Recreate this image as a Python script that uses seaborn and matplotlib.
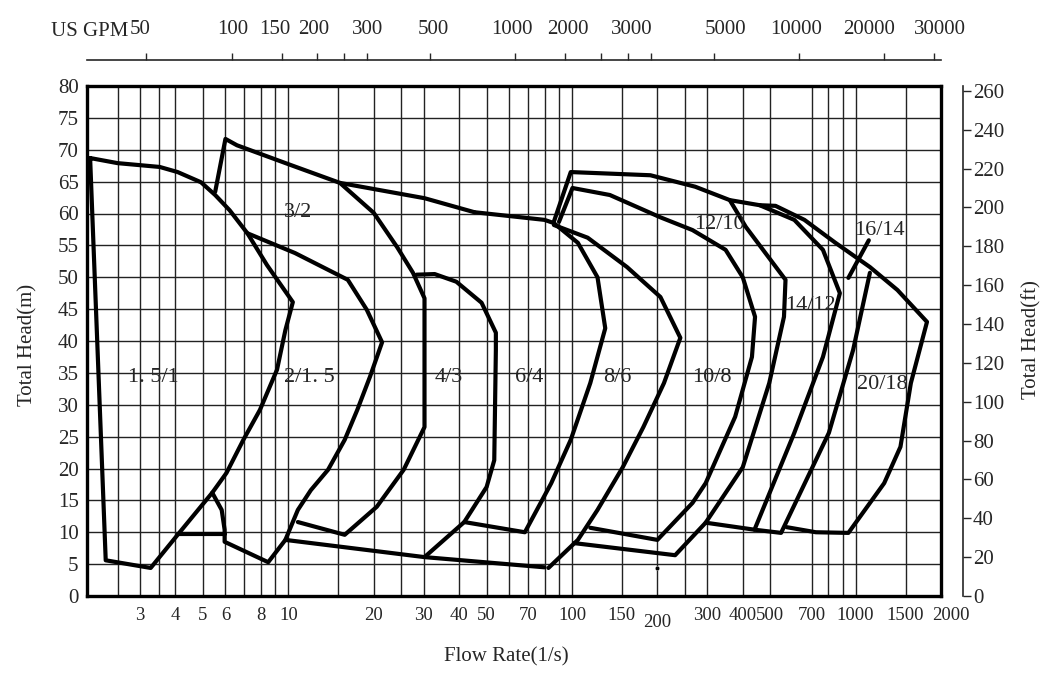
#############################################
########## Pump selection chart
#############################################
import numpy as np
import pandas as pd
import seaborn as sns
import matplotlib.pyplot as plt
from matplotlib.transforms import ScaledTranslation
from matplotlib.ticker import FixedLocator, NullLocator, FixedFormatter, NullFormatter

##### Axis data #####
x_ticks = [3, 4, 5, 6, 8, 10, 20, 30, 40, 50, 70, 100, 150, 200, 300, 400, 500, 700, 1000, 1500, 2000]
x_grid = [2.5, 3, 3.5, 4, 5, 6, 7, 8, 9, 10, 15, 20, 25, 30, 40, 50, 60, 70, 80, 90, 100,
          150, 200, 250, 300, 400, 500, 700, 800, 900, 1000, 1500]
y_ticks = list(range(0, 81, 5))
ft_ticks = list(range(0, 261, 20))
gpm_ticks = [50, 100, 150, 200, 250, 300, 500, 1000, 1500, 2000, 2500, 3000, 5000, 10000, 20000, 30000]
gpm_labels = ['50', '100', '150', '200', '300', '500', '1000', '2000', '3000', '5000', '10000', '20000', '30000']

##### Curve data (flow l/s, head m) #####
p15_flow = [2.0, 2.27, 3.27, 4.07, 5.39, 6.05, 6.94, 7.94, 9.12, 9.76, 10.37, 8.41, 7.17, 6.21, 5.52, 4.92, 4.07, 3.52, 2.5, 2.0]
p15_head = [68.7, 5.6, 4.4, 9.6, 16.2, 19.3, 24.5, 29.2, 35.5, 41.7, 46.1, 51.9, 56.9, 60.5, 62.9, 64.9, 66.5, 67.3, 67.9, 68.7]
p2_flow = [7.17, 10.55, 16.2, 18.9, 21.4, 19.4, 17.5, 15.8, 13.8, 12.0, 10.8, 9.76, 8.49, 5.96, 5.96, 5.82, 5.39]
p2_head = [56.9, 53.8, 49.6, 44.9, 39.8, 34.4, 29.2, 24.5, 19.8, 16.6, 13.5, 8.8, 5.3, 8.5, 10.4, 13.5, 16.2]
low_flow = [4.07, 5.96]
low_head = [9.7, 9.7]
p3_flow = [5.52, 6.0, 6.59, 10.2, 15.2, 20.0, 24.2, 27.5, 30.2, 30.2, 25.5, 20.5, 15.8, 10.8]
p3_head = [63.4, 71.7, 70.7, 67.6, 64.8, 60.1, 54.7, 50.7, 46.7, 26.5, 19.8, 14.0, 9.6, 11.6]
top_flow = [15.2, 30.2, 45.3]
top_head = [64.8, 62.4, 60.2]
bot_flow = [9.76, 30.2, 80.0]
bot_head = [8.8, 6.1, 4.5]
p4_flow = [28.3, 32.8, 39.1, 48.0, 53.9, 53.9, 53.2, 50.0, 41.7, 30.2]
p4_head = [50.4, 50.5, 49.3, 46.0, 41.3, 38.6, 21.3, 17.1, 11.6, 6.1]
p6_flow = [45.3, 80, 86.3, 104.9, 123, 131, 116, 99, 84.5, 68.2, 41.7]
p6_head = [60.2, 59.0, 58.5, 55.4, 50.0, 42.0, 33.4, 24.5, 17.7, 10.0, 11.6]
p8_flow = [86.3, 113.6, 156.3, 205, 241, 211, 178.5, 151, 123, 104.9, 82.6]
p8_head = [58.2, 56.2, 51.6, 46.9, 40.5, 33.4, 26.5, 20.2, 13.5, 8.8, 4.4]
p10_flow = [90, 100.4, 136, 205, 266, 348, 400, 442, 431, 376, 296, 266, 200, 116]
p10_head = [58.7, 64.0, 62.9, 59.4, 57.4, 54.3, 50.0, 43.8, 37.5, 28.1, 17.7, 14.6, 8.8, 10.7]
p12_flow = [86.3, 99, 189, 272, 360, 410, 566, 559, 496, 400, 296, 231, 101.6]
p12_head = [58.7, 66.5, 66.0, 64.2, 62.1, 57.9, 49.6, 43.8, 33.4, 20.2, 11.5, 6.4, 8.3]
p14_flow = [360, 459, 608, 767, 880, 767, 608, 440, 296]
p14_head = [62.1, 61.3, 59.0, 54.3, 47.5, 37.5, 25.6, 10.4, 11.5]
p20_flow = [459, 522, 660, 849, 1123, 1404, 1785, 1566, 1439, 1261, 943, 724, 571]
p20_head = [61.3, 61.2, 59.0, 55.4, 51.6, 48.0, 43.0, 33.4, 23.4, 17.7, 9.9, 10.0, 10.8]
p16_flow = [1123, 980, 805, 546, 440]
p16_head = [50.7, 38.6, 25.6, 9.9, 10.4]
ptr_flow = [943, 1113]
ptr_head = [49.9, 55.8]
dot_flow = [200]
dot_head = [4.4]

curves = {'1.5/1': (p15_flow, p15_head), '2/1.5': (p2_flow, p2_head), 'low': (low_flow, low_head),
          '3/2': (p3_flow, p3_head), 'top': (top_flow, top_head), 'bottom': (bot_flow, bot_head),
          '4/3': (p4_flow, p4_head), '6/4': (p6_flow, p6_head), '8/6': (p8_flow, p8_head),
          '10/8': (p10_flow, p10_head), '12/10': (p12_flow, p12_head), '14/12': (p14_flow, p14_head),
          '20/18': (p20_flow, p20_head), '16/14': (p16_flow, p16_head), 'ptr': (ptr_flow, ptr_head)}

labels = ['1. 5/1', '2/1. 5', '3/2', '4/3', '6/4', '8/6', '10/8', '12/10', '14/12', '16/14', '20/18']
label_flow = [3.33, 11.9, 10.8, 36.7, 70.5, 144, 312, 330, 694, 1209, 1240]
label_head = [34.2, 34.2, 60.2, 34.2, 34.2, 34.2, 34.2, 58.2, 45.6, 57.4, 33.1]

#############################################
########## Style
#############################################
sns.set_style('white')
plt.rcParams['font.family'] = ['Liberation Serif', 'DejaVu Serif']
fs = 15

#############################################
########## Plot
#############################################
W, H = 1059, 685
fig = plt.figure(figsize=(W / 100, H / 100), dpi=100)
ax = fig.add_axes([87 / W, 1 - 596 / H, (941 - 87) / W, 510 / H])

# Curves
frames = []
for name, (fl, hd) in curves.items():
	frames.append(pd.DataFrame({'line': name, 'flow': fl, 'head': hd}))
df = pd.concat(frames, ignore_index=True)
sns.lineplot(data=df, x='flow', y='head', units='line', estimator=None, sort=False,
			 color='black', lw=3, ax=ax, zorder=3)
sns.scatterplot(x=dot_flow, y=dot_head, color='black', s=10, ax=ax, zorder=3)

for t, fx, hy in zip(labels, label_flow, label_head):
	ax.text(fx, hy, t, ha='center', va='center', fontsize=fs + 1, zorder=4)

ax.set_xscale('log')
ax.set_xlim(1.95, 2000)
ax.set_ylim(0, 80)
ax.xaxis.set_major_locator(FixedLocator(x_ticks))
ax.xaxis.set_major_formatter(FixedFormatter([str(v) for v in x_ticks]))
ax.xaxis.set_minor_locator(FixedLocator([v for v in x_grid if v not in x_ticks]))
ax.xaxis.set_minor_formatter(NullFormatter())
ax.yaxis.set_major_locator(FixedLocator(y_ticks))
ax.tick_params(axis='both', which='both', length=0)
ax.tick_params(axis='x', pad=8, labelsize=fs - 1.5)
ax.tick_params(axis='y', pad=6, labelsize=fs)
ax.grid(which='both', color='#222222', lw=1.0)
ax.set_axisbelow(True)
for s in ax.spines.values():
	s.set_color('black')
	s.set_linewidth(2.4)
ax.set(xlabel='', ylabel='')

# Nudge the "200" label down and the last label inside, like the reference
xl = ax.get_xticklabels()
xl[13].set_transform(xl[13].get_transform() + ScaledTranslation(0, -7 / 100, fig.dpi_scale_trans))
xl[-1].set_horizontalalignment('left')
xl[-1].set_transform(xl[-1].get_transform() + ScaledTranslation(-9 / 100, 0, fig.dpi_scale_trans))

# Top GPM axis
top = ax.secondary_xaxis(1.051, functions=(lambda q: q * 15.85, lambda g: g / 15.85))
top.xaxis.set_major_locator(FixedLocator(gpm_ticks))
top.xaxis.set_major_formatter(NullFormatter())
top.xaxis.set_minor_locator(NullLocator())
top.tick_params(direction='out', length=5, width=1)
top.spines['top'].set_linewidth(1.2)
gpm_label_pos = [0.062, 0.171, 0.220, 0.266, 0.329, 0.405, 0.497, 0.563, 0.638, 0.748, 0.830, 0.916, 0.999]
for t, px in zip(gpm_labels, gpm_label_pos):
	ax.text(px, 1.110, t, transform=ax.transAxes, ha='center', va='center', fontsize=fs)
fig.text(51 / W, 1 - 31 / H, 'US GPM', ha='left', va='center', fontsize=fs)

# Right ft axis
right = ax.secondary_yaxis(1.026, functions=(lambda m: m * 3.2808, lambda f: f / 3.2808))
right.yaxis.set_major_locator(FixedLocator(ft_ticks))
right.yaxis.set_minor_locator(NullLocator())
right.tick_params(direction='out', length=6, width=1, labelsize=fs, pad=1)
right.spines['right'].set_linewidth(1.2)

# Axis titles
fig.text(28 / W, 1 - 345 / H, 'Total Head(m)', rotation=90, ha='center', va='center', fontsize=fs)
fig.text(1032 / W, 1 - 340 / H, 'Total Head(ft)', rotation=90, ha='center', va='center', fontsize=fs)
fig.text(506 / W, 1 - 657 / H, 'Flow Rate(1/s)', ha='center', va='center', fontsize=fs)

fig.savefig('out.png', dpi=100)
